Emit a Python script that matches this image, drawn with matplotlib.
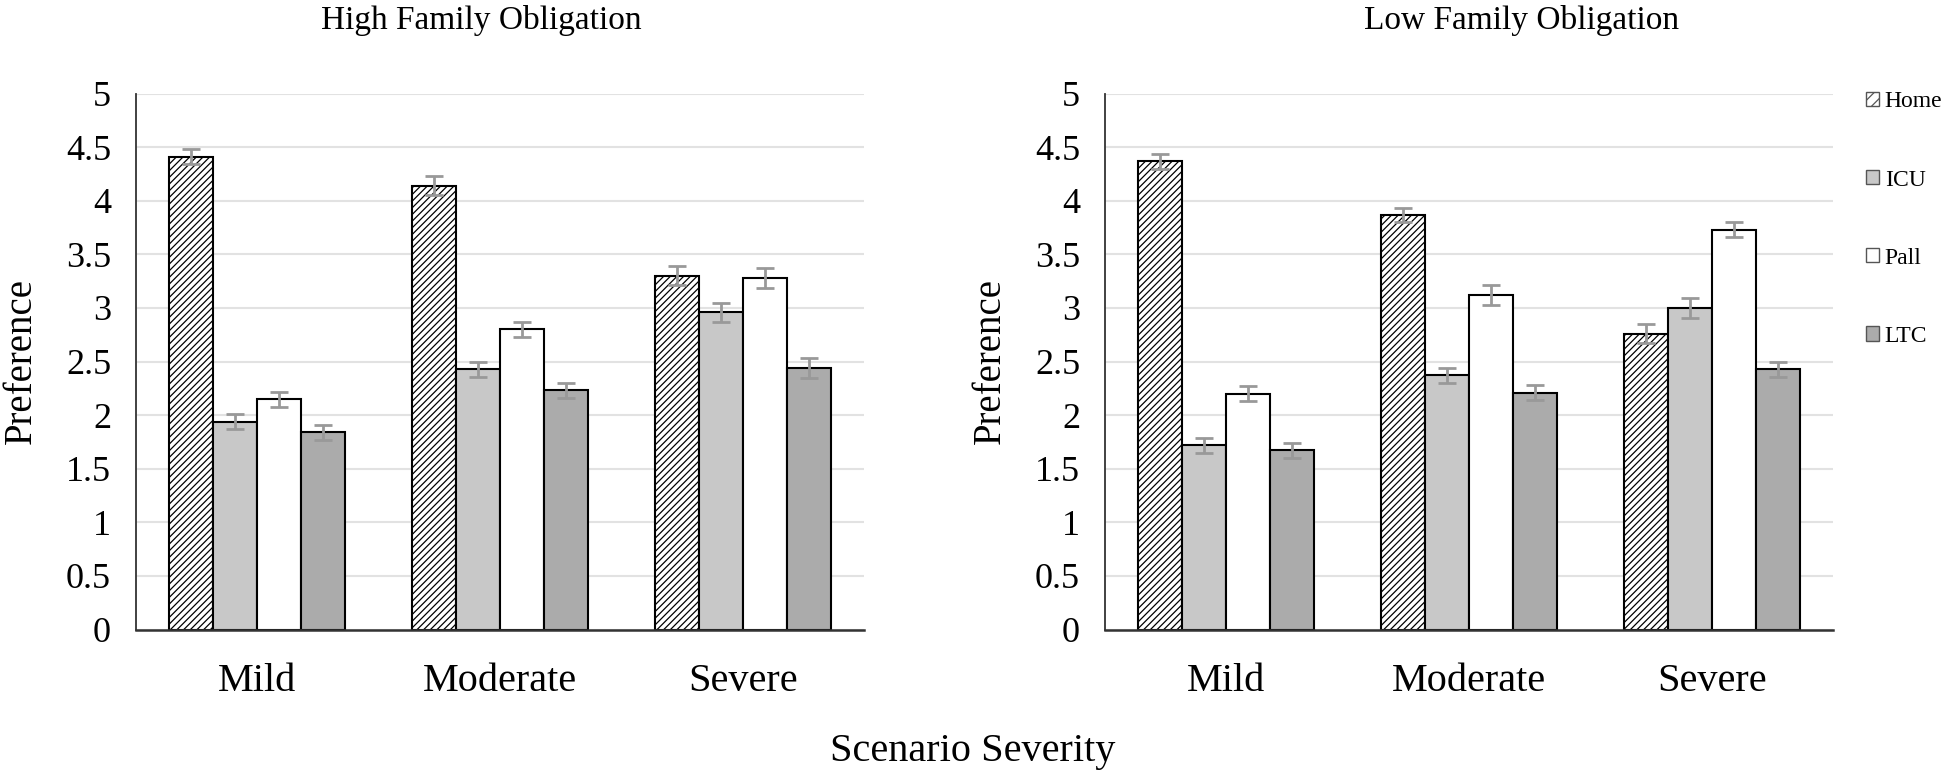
import matplotlib
matplotlib.use("Agg")
import matplotlib.pyplot as plt
from matplotlib.patches import Patch
import numpy as np

plt.rcParams['font.family'] = ['Liberation Serif', 'DejaVu Serif']
plt.rcParams['hatch.linewidth'] = 0.9

categories = ["Mild", "Moderate", "Severe"]
series = ["Home", "ICU", "Pall", "LTC"]

high_home = [4.41, 4.14, 3.30]
high_icu = [1.94, 2.43, 2.96]
high_pall = [2.15, 2.80, 3.28]
high_ltc = [1.84, 2.23, 2.44]
high_err_home = [0.07, 0.09, 0.09]
high_err_icu = [0.07, 0.07, 0.09]
high_err_pall = [0.07, 0.07, 0.09]
high_err_ltc = [0.07, 0.07, 0.09]

low_home = [4.37, 3.87, 2.76]
low_icu = [1.72, 2.37, 3.00]
low_pall = [2.20, 3.12, 3.73]
low_ltc = [1.67, 2.21, 2.43]
low_err_home = [0.07, 0.065, 0.09]
low_err_icu = [0.07, 0.07, 0.09]
low_err_pall = [0.07, 0.09, 0.07]
low_err_ltc = [0.07, 0.07, 0.07]

titles = ["High Family Obligation", "Low Family Obligation"]
yticks = [0, 0.5, 1, 1.5, 2, 2.5, 3, 3.5, 4, 4.5, 5]
ytick_labels = ["0", "0.5", "1", "1.5", "2", "2.5", "3", "3.5", "4", "4.5", "5"]

face = ["white", "#c8c8c8", "white", "#ababab"]
hatches = ["/////", None, None, None]

W, H = 1944, 770
fig = plt.figure(figsize=(W / 100, H / 100), dpi=100)
ax1 = fig.add_axes([136/W, 1-629.5/H, 728/W, 536/H])
ax2 = fig.add_axes([1105/W, 1-629.5/H, 728/W, 536/H])

panels = [
    (ax1, [high_home, high_icu, high_pall, high_ltc],
     [high_err_home, high_err_icu, high_err_pall, high_err_ltc]),
    (ax2, [low_home, low_icu, low_pall, low_ltc],
     [low_err_home, low_err_icu, low_err_pall, low_err_ltc]),
]
title_x = [481/W, 1522/W]

x = np.arange(len(categories))
bw = 0.181
for i, (ax, vals, errs) in enumerate(panels):
    for j in range(4):
        pos = x + (j - 1.5) * bw
        ax.bar(pos, vals[j], width=bw, color=face[j], edgecolor="black",
               linewidth=1.5, hatch=hatches[j], zorder=2)
        ax.errorbar(pos, vals[j], yerr=errs[j], fmt="none", ecolor="#999999",
                    elinewidth=2, capsize=6.8, capthick=2, zorder=3)
    ax.set_xlim(-0.5, 2.5)
    ax.set_ylim(0, 5)
    ax.set_yticks(yticks)
    ax.set_yticklabels(ytick_labels)
    ax.set_xticks(x)
    ax.set_xticklabels(categories)
    ax.tick_params(axis="y", length=0, pad=18, labelsize=26)
    ax.tick_params(axis="x", length=0, pad=24, labelsize=29)
    ax.grid(axis="y", color="#e2e2e2", linewidth=1.5, zorder=0)
    ax.set_axisbelow(True)
    for s in ["top", "right"]:
        ax.spines[s].set_visible(False)
    ax.spines["left"].set_color("#333333")
    ax.spines["bottom"].set_color("#333333")
    ax.spines["left"].set_linewidth(1.3)
    ax.spines["bottom"].set_linewidth(1.8)
    ax.set_ylabel("Preference", fontsize=28)
    ax.yaxis.set_label_coords(-0.132, 0.5)
    fig.text(title_x[i], 1-21/H, titles[i], ha="center", va="center", fontsize=24)

fig.text(973/W, 1-751/H, "Scenario Severity", ha="center", va="center", fontsize=29)

handles = [Patch(facecolor=face[j], edgecolor="#555555",
                 hatch=("///" if hatches[j] else None), linewidth=1) for j in range(4)]
fig.legend(handles, series, loc="upper left", bbox_to_anchor=(1856.5/W, 1-82/H),
           frameon=False, fontsize=17, handlelength=0.55, handleheight=0.55,
           handletextpad=0.25, labelspacing=2.42, borderaxespad=0)

fig.savefig("out.png", dpi=100)
